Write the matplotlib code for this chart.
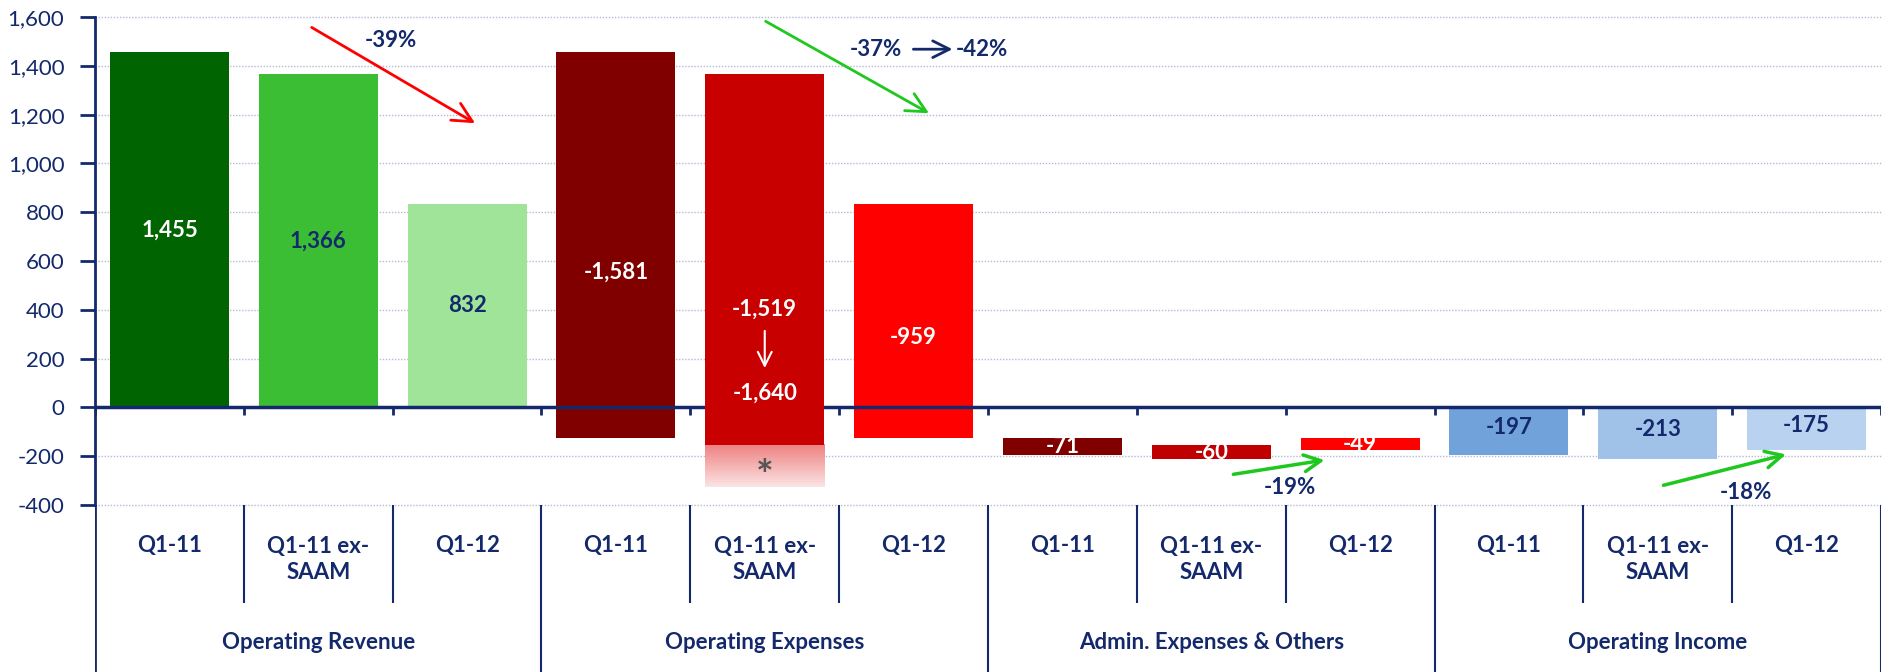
import numpy as np
import matplotlib.pyplot as plt

plt.rcParams['font.family'] = ['Lato', 'DejaVu Sans']

# data
groups = ['Operating Revenue', 'Operating Expenses', 'Admin. Expenses & Others', 'Operating Income']
periods = ['Q1-11', 'Q1-11 ex-\nSAAM', 'Q1-12']
revenue = [1455, 1366, 832]
op_expenses = [-1581, -1519, -959]
admin = [-71, -60, -49]
op_income = [-197, -213, -175]
saam_expenses = -1640
saam_shade = -175  # faded part shown under the ex-SAAM expense bar

rev_colors = ['#006400', '#3CBE34', '#A0E49A']
exp_colors = ['#800000', '#C80000', '#FF0000']
adm_colors = ['#800000', '#C00000', '#FF0000']
inc_colors = ['#71A2DA', '#A0C2E8', '#B9D2F0']
navy = '#13296B'
green = '#1EC81E'

W, H = 1883, 672
fig = plt.figure(figsize=(W / 100, H / 100), dpi=100)
ax = fig.add_axes([95 / W, 167 / H, 1786 / W, 488 / H])
tab = fig.add_axes([95 / W, 0, 1786 / W, 167 / H])

x = np.arange(12)
bw = 0.8
exp_base = np.array(revenue)
adm_base = exp_base + np.array(op_expenses)

ax.bar(x[0:3], revenue, width=bw, color=rev_colors, zorder=2)
ax.bar(x[3:6], op_expenses, bottom=exp_base, width=bw, color=exp_colors, zorder=2)
ax.bar(x[6:9], admin, bottom=adm_base, width=bw, color=adm_colors, zorder=2)
ax.bar(x[9:12], op_income, width=bw, color=inc_colors, zorder=2)
# ex-SAAM expense bar covers the zero line
ax.bar(x[4], op_expenses[1], bottom=exp_base[1], width=bw, color=exp_colors[1], zorder=4)

# faded extension below the ex-SAAM bar
top = exp_base[1] + op_expenses[1]
grad = np.linspace(0, 1, 100)[:, None]
c0 = np.array([238, 128, 128]) / 255
c1 = np.array([251, 228, 228]) / 255
img = c0 + (c1 - c0) * grad[:, :, None]
ax.imshow(np.repeat(img, 2, axis=1), extent=(x[4] - bw / 2, x[4] + bw / 2, top + saam_shade, top),
          aspect='auto', origin='upper', zorder=2)
ax.text(x[4], top + saam_shade * 0.78, '*', ha='center', va='center', fontsize=30,
        fontweight='bold', color='#555555', zorder=5)

# axes styling
ax.set_xlim(-0.5, 11.5)
ax.set_ylim(-400, 1600)
yt = list(range(-400, 1601, 200))
ax.set_yticks(yt)
ax.set_yticklabels([f'{v:,}' for v in yt])
ax.tick_params(axis='y', direction='out', length=11, width=2, color=navy,
               labelcolor=navy, labelsize=16, pad=11)
ax.set_xticks([])
for s in ['top', 'right', 'bottom']:
    ax.spines[s].set_visible(False)
ax.spines['left'].set_color(navy)
ax.spines['left'].set_linewidth(2)
for v in yt:
    if v != 0:
        ax.axhline(v, color='#B4BBD4', lw=1, ls=(0, (1, 1.2)), zorder=0, clip_on=False)
ax.axhline(0, color=navy, lw=2.5, zorder=3)
ax.vlines(np.arange(-0.5, 12, 1), -33, 0, color=navy, lw=2, zorder=3)

# value labels
for i, v in enumerate(revenue):
    ax.text(x[i], v / 2, f'{v:,}', ha='center', va='center', fontsize=16, fontweight='bold',
            color='white' if i == 0 else navy, zorder=5)
for i in [0, 2]:
    v = op_expenses[i]
    ax.text(x[3 + i], exp_base[i] + v * 0.57, f'{v:,}', ha='center', va='center',
            fontsize=16, fontweight='bold', color='white', zorder=5)
ax.text(x[4], 404, f'{op_expenses[1]:,}', ha='center', va='center', fontsize=16,
        fontweight='bold', color='white', zorder=5)
ax.text(x[4], 58, f'{saam_expenses:,}', ha='center', va='center', fontsize=16,
        fontweight='bold', color='white', zorder=5)
ax.annotate('', xy=(x[4], 150), xytext=(x[4], 325), zorder=5,
            arrowprops=dict(arrowstyle='->', color='white', lw=1.5, mutation_scale=25))
for i, v in enumerate(admin):
    ax.text(x[6 + i], adm_base[i] + v / 2, f'{v:,}', ha='center', va='center', fontsize=16,
            fontweight='bold', color='white', zorder=5)
for i, v in enumerate(op_income):
    ax.text(x[9 + i], v * 0.42, f'{v:,}', ha='center', va='center', fontsize=16,
            fontweight='bold', color=navy, zorder=5)

# change annotations
ax.annotate('', xy=(2.07, 1159), xytext=(0.94, 1563),
            arrowprops=dict(arrowstyle='->', color='#FF0000', lw=2, mutation_scale=35))
ax.text(1.49, 1505, '-39%', ha='center', va='center', fontsize=16, fontweight='bold', color=navy)
ax.annotate('', xy=(5.12, 1200), xytext=(3.99, 1588),
            arrowprops=dict(arrowstyle='->', color=green, lw=2, mutation_scale=35))
ax.text(4.75, 1468, '-37%', ha='center', va='center', fontsize=16, fontweight='bold', color=navy)
ax.annotate('', xy=(5.28, 1468), xytext=(4.98, 1468),
            arrowprops=dict(arrowstyle='->', color=navy, lw=2, mutation_scale=30))
ax.text(5.46, 1468, '-42%', ha='center', va='center', fontsize=16, fontweight='bold', color=navy)
ax.annotate('', xy=(7.78, -214), xytext=(7.13, -276),
            arrowprops=dict(arrowstyle='->', color=green, lw=2.5, mutation_scale=30))
ax.text(7.53, -330, '-19%', ha='center', va='center', fontsize=16, fontweight='bold', color=navy)
ax.annotate('', xy=(10.88, -190), xytext=(10.02, -322),
            arrowprops=dict(arrowstyle='->', color=green, lw=2.5, mutation_scale=30))
ax.text(10.59, -350, '-18%', ha='center', va='center', fontsize=16, fontweight='bold', color=navy)

# category table below the chart
tab.set_xlim(-0.5, 11.5)
tab.set_ylim(0, 1)
tab.axis('off')
for b in np.arange(-0.5, 12, 1):
    if b % 3 == 2.5 or b == -0.5:
        tab.vlines(b, 0, 1, color=navy, lw=2 if b == -0.5 else 1.5)
    else:
        tab.vlines(b, 0.413, 1, color=navy, lw=1.5)
for i in range(12):
    lab = periods[i % 3]
    yy = 0.674 if '\n' in lab else 0.76
    tab.text(x[i], yy, lab, ha='center', va='center', fontsize=16, fontweight='bold',
             color=navy, linespacing=1.3)
for g, name in enumerate(groups):
    tab.text(3 * g + 1, 0.174, name, ha='center', va='center', fontsize=16,
             fontweight='bold', color=navy)

fig.savefig('out.png', dpi=100)
